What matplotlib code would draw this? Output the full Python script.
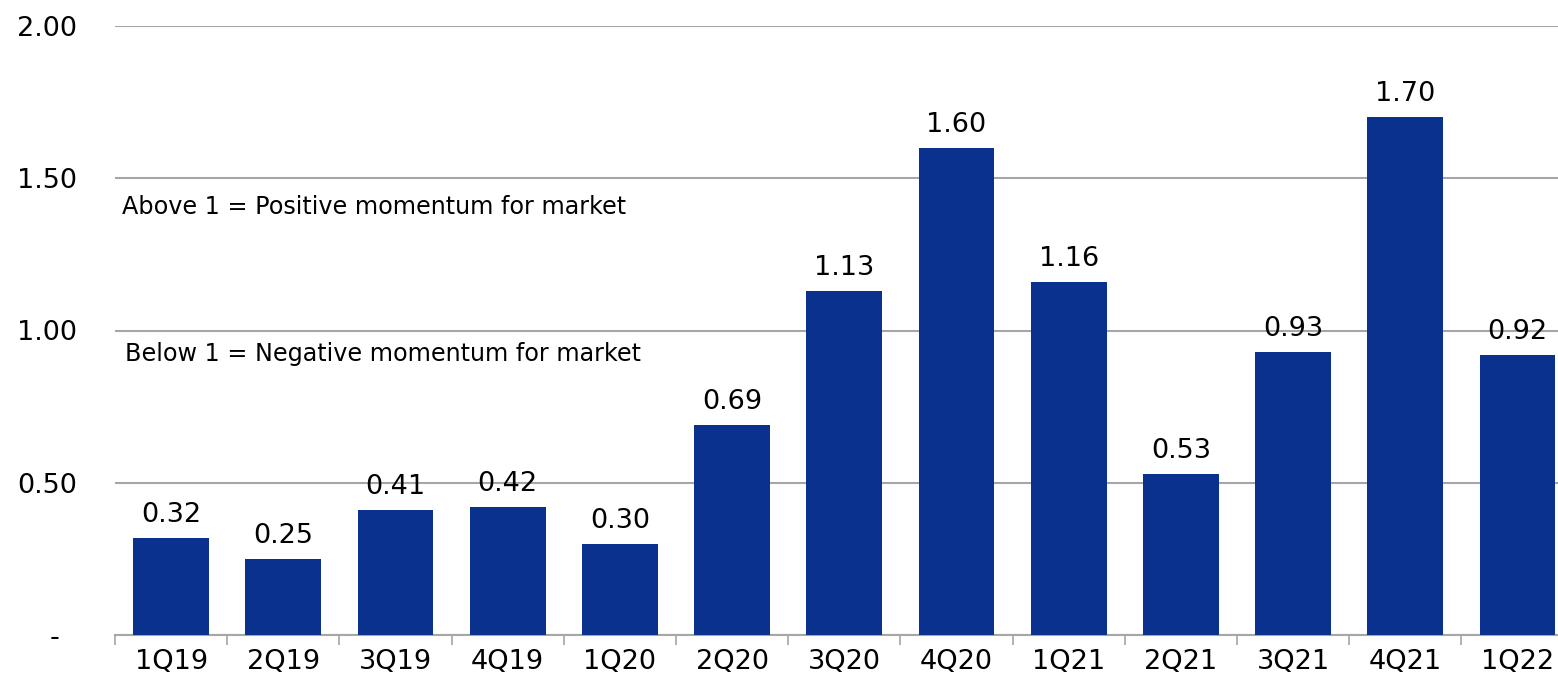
import matplotlib
matplotlib.use("Agg")
import matplotlib.pyplot as plt
import numpy as np

categories = ["1Q19", "2Q19", "3Q19", "4Q19", "1Q20", "2Q20", "3Q20", "4Q20",
              "1Q21", "2Q21", "3Q21", "4Q21", "1Q22"]
values = [0.32, 0.25, 0.41, 0.42, 0.30, 0.69, 1.13, 1.60, 1.16, 0.53, 0.93, 1.70, 0.92]
ytick_vals = [0.0, 0.5, 1.0, 1.5, 2.0]
ytick_labels = ["-  ", "0.50", "1.00", "1.50", "2.00"]

plt.rcParams['font.family'] = ['DejaVu Sans']

W, H = 1558, 675
fig = plt.figure(figsize=(W / 100, H / 100), dpi=100)
left = 115 / W
bottom = (H - 635) / H
top = (H - 26) / H
width = 13 * 112.2 / W
ax = fig.add_axes([left, bottom, width, top - bottom])

x = np.arange(len(categories))
bar_color = "#0B318F"
ax.bar(x, values, width=0.677, color=bar_color, zorder=3)

for xi, v in zip(x, values):
    ax.text(xi, v + 0.033, f"{v:.2f}", ha="center", va="bottom", fontsize=19.5, color="#000000")

ax.set_xlim(-0.5, len(categories) - 0.5)
ax.set_ylim(0, 2.0)
ax.set_yticks(ytick_vals)
ax.set_yticklabels(ytick_labels, fontsize=19.5)
ax.tick_params(axis="y", length=0, pad=27.4)
ax.yaxis.grid(True, color="#A6A6A6", linewidth=1.5, zorder=0)

ax.set_xticks(x)
ax.set_xticklabels(categories, fontsize=19.5)
ax.tick_params(axis="x", which="major", length=0, pad=10)
ax.set_xticks(np.arange(-0.5, len(categories) + 0.5, 1), minor=True)
ax.tick_params(axis="x", which="minor", length=7, width=1.2, color="#A6A6A6", direction="out")

for s in ["left", "right", "top"]:
    ax.spines[s].set_visible(False)
ax.spines["bottom"].set_color("#A6A6A6")
ax.spines["bottom"].set_linewidth(1.5)

ax.text(-0.44, 1.405, "Above 1 = Positive momentum for market", fontsize=17.2,
        ha="left", va="center", color="#000000")
ax.text(-0.41, 0.923, "Below 1 = Negative momentum for market", fontsize=17.2,
        ha="left", va="center", color="#000000")

fig.savefig("out.png", dpi=100)
